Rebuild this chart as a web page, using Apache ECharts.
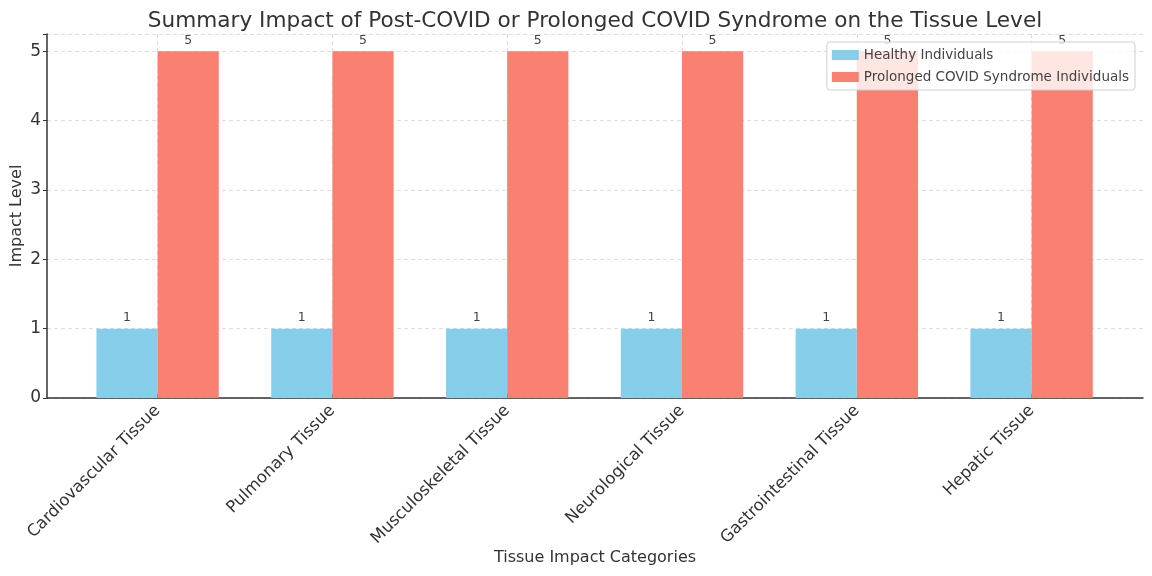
<!DOCTYPE html>
<html>
<head>
<meta charset="utf-8">
<script src="https://cdn.jsdelivr.net/npm/echarts@6/dist/echarts.min.js"></script>
<style>
  html, body { margin: 0; padding: 0; background: #fff; }
  #chart { width: 1152px; height: 576px; }
</style>
</head>
<body>
<div id="chart"></div>
<script>
// data
var categories = ['Cardiovascular Tissue', 'Pulmonary Tissue', 'Musculoskeletal Tissue',
                  'Neurological Tissue', 'Gastrointestinal Tissue', 'Hepatic Tissue'];
var healthy = [1, 1, 1, 1, 1, 1];
var prolonged = [5, 5, 5, 5, 5, 5];
var yTicks = [0, 1, 2, 3, 4, 5];

var font = 'DejaVu Sans';
var chart = echarts.init(document.getElementById('chart'));

// plot frame 47..1143 px, categories 174.8 px apart, first one at 157.6
var option = {
    animation: false,
    title: {
        text: 'Summary Impact of Post-COVID or Prolonged COVID Syndrome on the Tissue Level',
        left: 590, top: 5, textAlign: 'center',
        textStyle: { fontFamily: font, fontSize: 21.6, fontWeight: 'normal', color: '#333' }
    },
    legend: {
        orient: 'vertical',
        right: 17, top: 42,
        icon: 'rect',
        itemWidth: 27, itemHeight: 10, itemGap: 8,
        padding: [6, 6, 6, 5],
        backgroundColor: 'rgba(255,255,255,0.8)',
        borderColor: '#d0d0d0', borderWidth: 1, borderRadius: 3,
        textStyle: { fontFamily: font, fontSize: 13.5, color: '#444' },
        data: ['Healthy Individuals', 'Prolonged COVID Syndrome Individuals']
    },
    grid: [
        { left: 47, right: 9, top: 34, bottom: 178, outerBoundsMode: 'none' },
        { left: 157.6, width: 874, top: 34, bottom: 178, outerBoundsMode: 'none' }
    ],
    xAxis: [
        {
            type: 'value', gridIndex: 0, min: -0.635, max: 5.635,
            axisLine: { show: true, onZero: false, lineStyle: { color: '#333', width: 1.5 } },
            axisTick: { show: false }, axisLabel: { show: false }, splitLine: { show: false },
            name: 'Tissue Impact Categories', nameLocation: 'middle', nameGap: 152,
            nameMoveOverlap: false,
            nameTextStyle: { fontFamily: font, fontSize: 16, color: '#333' }
        },
        {
            type: 'category', gridIndex: 1, data: categories, boundaryGap: false,
            axisLine: { show: false },
            axisTick: { show: true, inside: true, length: 4, lineStyle: { color: '#333' } },
            axisLabel: { rotate: 45, fontFamily: font, fontSize: 16.5, color: '#333', margin: 10, interval: 0 },
            splitLine: { show: true, lineStyle: { color: '#d6d6d6', type: [4, 3], width: 0.8 } }
        }
    ],
    yAxis: [
        {
            type: 'value', gridIndex: 0, min: 0, max: 5.25, interval: 1,
            axisLine: { show: true, onZero: false, lineStyle: { color: '#333', width: 1.5 } },
            axisTick: { show: true, length: 4, lineStyle: { color: '#333' } },
            axisLabel: {
                fontFamily: font, fontSize: 17, color: '#333', margin: 6,
                formatter: function (v) { return yTicks.indexOf(v) >= 0 ? String(v) : ''; }
            },
            splitLine: { show: true, lineStyle: { color: '#d6d6d6', type: [4, 3], width: 0.8 } },
            name: 'Impact Level', nameLocation: 'middle', nameGap: 22,
            nameMoveOverlap: false,
            nameTextStyle: { fontFamily: font, fontSize: 16, color: '#333' }
        },
        {
            type: 'value', gridIndex: 1, min: 0, max: 5.25, interval: 1,
            axisLine: { show: false }, axisTick: { show: false },
            axisLabel: { show: false }, splitLine: { show: false }
        }
    ],
    series: [
        {
            name: 'Healthy Individuals', type: 'bar', xAxisIndex: 1, yAxisIndex: 1,
            data: healthy, clip: false,
            barCategoryGap: '30%', barGap: '0%',
            itemStyle: { color: '#87CEEB' },
            label: { show: true, position: 'top', distance: 4, fontFamily: font, fontSize: 12.5, color: '#444' }
        },
        {
            name: 'Prolonged COVID Syndrome Individuals', type: 'bar', xAxisIndex: 1, yAxisIndex: 1,
            data: prolonged, clip: false,
            barCategoryGap: '30%', barGap: '0%',
            itemStyle: { color: '#FA8072' },
            label: { show: true, position: 'top', distance: 4, fontFamily: font, fontSize: 12.5, color: '#444' }
        }
    ]
};
chart.setOption(option);
</script>
</body>
</html>
